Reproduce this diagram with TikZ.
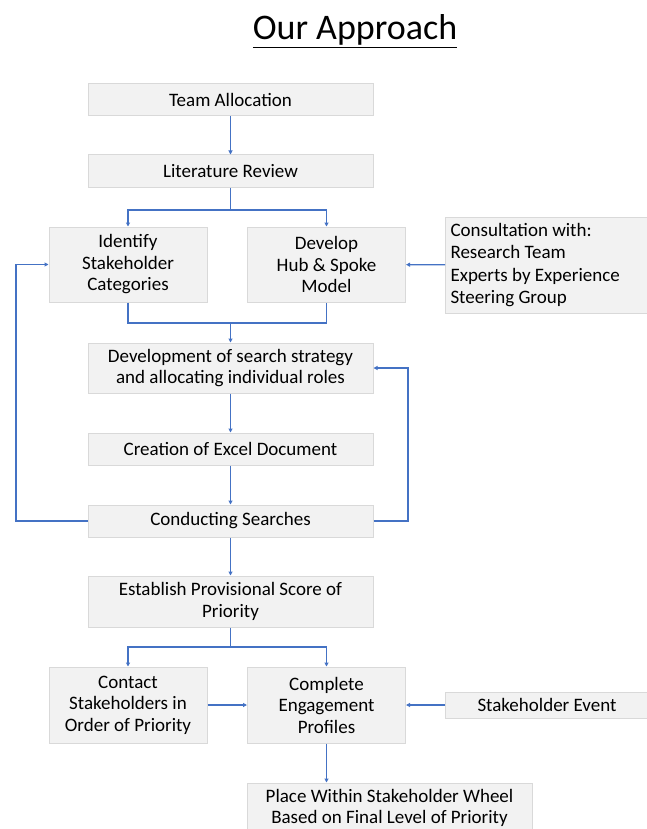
\documentclass[tikz,border=0pt]{standalone}
\usepackage{fontspec}
\setmainfont{Carlito}
\usetikzlibrary{arrows.meta}

\definecolor{boxfill}{HTML}{F2F2F2}
\definecolor{boxline}{HTML}{D9D9D9}
\definecolor{flowblue}{HTML}{4472C4}

\tikzset{
  stepbox/.style={draw=boxline, fill=boxfill, line width=1pt, align=center,
    inner sep=0pt, font=\fontsize{19}{21.5}\selectfont},
  wide/.style={stepbox, minimum width=285pt},
  narrow/.style={stepbox, minimum width=158pt, minimum height=76pt},
  side/.style={stepbox, minimum width=203pt},
  flow/.style={draw=flowblue, line width=1.2pt},
  flowarrow/.style={flow, -{Triangle[length=4pt,width=4pt]}}
}

\begin{document}
\begin{tikzpicture}[x=1pt,y=-1pt]
\useasboundingbox (0,0) rectangle (646,829);

% title
\node[font=\fontsize{36}{40}\selectfont] (title) at (355,31) {\underline{Our Approach}};

% boxes
\node[wide, minimum height=32pt] (team) at (230.5,100) {Team Allocation};
\node[wide, minimum height=32pt] (lit) at (230.5,171) {Literature Review};
\node[narrow, minimum height=75pt] (ident) at (128,264.5) {Identify\\Stakeholder\\Categories};
\node[narrow, minimum height=75pt] (hub) at (326.5,264.5) {Develop\\Hub \& Spoke\\Model};
\node[side, minimum height=96pt, align=flush left, anchor=west, text width=193pt,
  font=\fontsize{19}{22.5}\selectfont] (consult) at (445,265)
  {Consultation with:\\Research Team\\Experts by Experience\\Steering Group};
\node[wide, minimum height=50pt] (search) at (230.5,368) {Development of search strategy\\and allocating individual roles};
\node[wide, minimum height=32pt] (excel) at (230.5,449) {Creation of Excel Document};
\node[wide, minimum height=32pt] (conduct) at (230.5,521) {Conducting Searches};
\node[wide, minimum height=51pt] (establish) at (230.5,601.5) {Establish Provisional Score of\\Priority};
\node[narrow] (contact) at (128,705) {Contact\\Stakeholders in\\Order of Priority};
\node[narrow] (complete) at (326.5,705) {Complete\\Engagement\\Profiles};
\node[side, minimum height=26pt, anchor=west] (event) at (445,705) {Stakeholder Event};
\node[wide, minimum height=50pt] (place) at (389.5,808)
  {Place Within Stakeholder Wheel\\Based on Final Level of Priority};

% split and merge points
\coordinate (s1) at (230.5,210);
\coordinate (m1) at (230.5,323);
\coordinate (lx) at (16,0);
\coordinate (rx) at (408,0);
\coordinate (s2) at (230.5,647);

% connectors
\draw[flowarrow] (team) -- (lit);
\draw[flow] (lit) -- (s1);
\draw[flowarrow] (s1) -| (ident);
\draw[flowarrow] (s1) -| (hub);
\draw[flowarrow] (consult) -- (hub);
\draw[flow] (ident) |- (m1) -| (hub);
\draw[flowarrow] (m1) -- (search);
\draw[flowarrow] (search) -- (excel);
\draw[flowarrow] (excel) -- (conduct);
\draw[flowarrow] (conduct.west) -- (conduct.west -| lx) |- (ident.west); %left loop
\draw[flowarrow] (conduct.east) -- (conduct.east -| rx) |- (search.east); %right loop
\draw[flowarrow] (conduct) -- (establish);
\draw[flow] (establish) -- (s2);
\draw[flowarrow] (s2) -| (contact);
\draw[flowarrow] (s2) -| (complete);
\draw[flowarrow] (contact) -- (complete);
\draw[flowarrow] (event) -- (complete);
\draw[flowarrow] (complete.south) -- (complete.south |- place.north);
\end{tikzpicture}
\end{document}
